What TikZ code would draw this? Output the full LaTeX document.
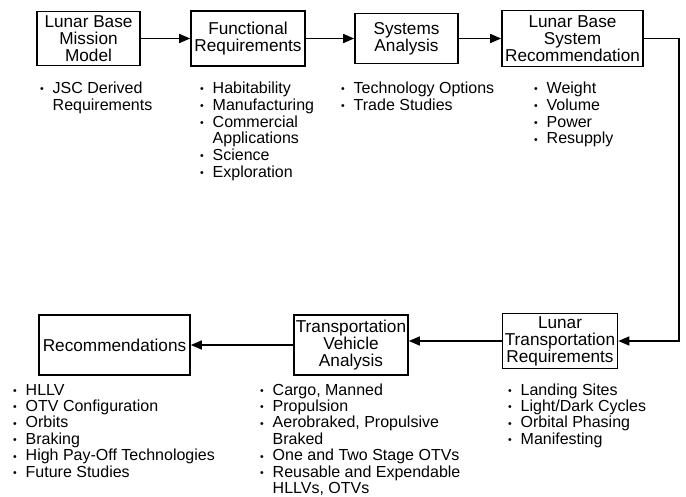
\documentclass[tikz,border=0pt]{standalone}
\usepackage{fontspec}
\setmainfont{Liberation Sans}
\usetikzlibrary{arrows.meta}
\newcommand\bl{\makebox[12.5pt][l]{\raisebox{0.8pt}{\fontsize{10.5}{10.5}\selectfont\textbullet}}}
\newcommand\ind{\hspace*{12.5pt}}
\begin{document}
\begin{tikzpicture}[x=1pt,y=-1pt,
  box/.style={draw, line width=1.6pt, inner sep=0pt, align=center,
    font=\fontsize{17.2}{17}\selectfont},
  lst/.style={anchor=base west, inner sep=0pt, font=\fontsize{16}{16.8}\selectfont},
  lstb/.style={lst, font=\fontsize{16}{16.3}\selectfont},
  arr/.style={line width=1.5pt, -{Triangle[length=11pt,width=9pt]}}]
\useasboundingbox (0,0) rectangle (686,497);
% top row
\node[box, minimum width=103pt, minimum height=54pt] (b1) at (88.5,38.5) {Lunar Base\\Mission\\Model};
\node[box, minimum width=114pt, minimum height=55pt] (b2) at (248,38.5) {Functional\\Requirements};
\node[box, minimum width=103pt, minimum height=50pt] (b3) at (406.5,38.5) {Systems\\Analysis};
\node[box, minimum width=141pt, minimum height=56pt] (b4) at (572.5,38.5) {Lunar Base\\System\\Recommendation};
% bottom row
\node[box, minimum width=115pt, minimum height=55pt] (b5) at (560,341) {Lunar\\Transportation\\Requirements};
\node[box, minimum width=114pt, minimum height=60pt] (b6) at (351,345) {Transportation\\Vehicle\\Analysis};
\node[box, minimum width=151pt, minimum height=60pt] (b7) at (114.5,345) {Recommendations};
% connectors
\draw[arr] (b1) -- (b2);
\draw[arr] (b2) -- (b3);
\draw[arr] (b3) -- (b4);
\coordinate (turn) at (679,200);
\draw[arr] (b4.east) -| (turn) |- (b5.east);
\draw[arr] (b5.west) -- (b5.west -| b6.east);
\draw[arr] (b6.west) -- (b7.east);
% lists
\node[lst] (l1) at (40,93.5) {\begin{tabular}[t]{@{}l@{}}\bl JSC Derived\\\ind Requirements\end{tabular}};
\node[lst] (l2) at (200,93.5) {\begin{tabular}[t]{@{}l@{}}\bl Habitability\\\bl Manufacturing\\\bl Commercial\\\ind Applications\\\bl Science\\\bl Exploration\end{tabular}};
\node[lst] (l3) at (341,93.5) {\begin{tabular}[t]{@{}l@{}}\bl Technology Options\\\bl Trade Studies\end{tabular}};
\node[lst] (l4) at (534,93.5) {\begin{tabular}[t]{@{}l@{}}\bl Weight\\\bl Volume\\\bl Power\\\bl Resupply\end{tabular}};
\node[lstb] (l5) at (508,395) {\begin{tabular}[t]{@{}l@{}}\bl Landing Sites\\\bl Light/Dark Cycles\\\bl Orbital Phasing\\\bl Manifesting\end{tabular}};
\node[lstb] (l6) at (260,395) {\begin{tabular}[t]{@{}l@{}}\bl Cargo, Manned\\\bl Propulsion\\\bl Aerobraked, Propulsive\\\ind Braked\\\bl One and Two Stage OTVs\\\bl Reusable and Expendable\\\ind HLLVs, OTVs\end{tabular}};
\node[lstb] (l7) at (13,395) {\begin{tabular}[t]{@{}l@{}}\bl HLLV\\\bl OTV Configuration\\\bl Orbits\\\bl Braking\\\bl High Pay-Off Technologies\\\bl Future Studies\end{tabular}};
\end{tikzpicture}
\end{document}
